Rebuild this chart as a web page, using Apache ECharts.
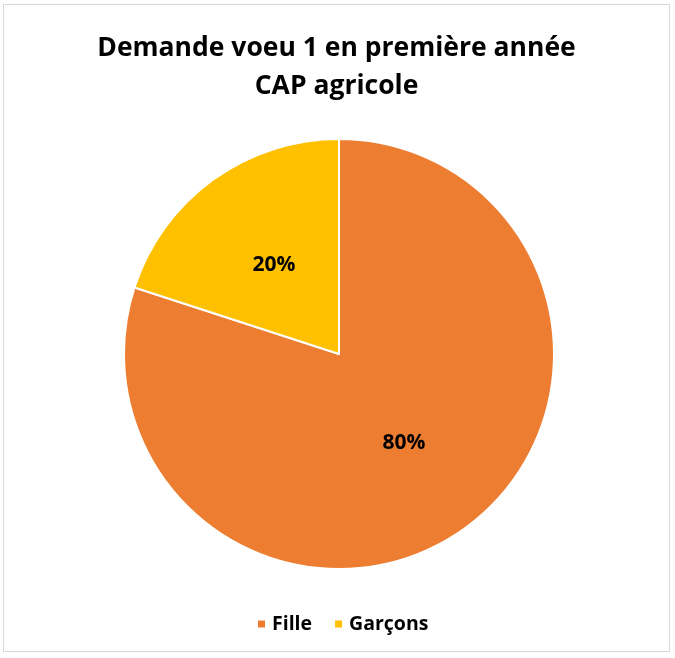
<!DOCTYPE html>
<html>
<head>
<meta charset="utf-8">
<script src="https://cdn.jsdelivr.net/npm/echarts@6/dist/echarts.min.js"></script>
<style>
html,body{margin:0;padding:0;background:#fff;}
#chart{position:absolute;left:3px;top:4px;width:667px;height:648px;border:1px solid #d9d9d9;box-sizing:border-box;}
</style>
</head>
<body>
<div id="chart"></div>
<script>
//数据
var categories = ["Fille", "Garçons"];
var values = [80, 20];
var colors = ["#ED7D31", "#FFC000"];

var myChart = echarts.init(document.getElementById("chart"));

var pieData = [];
for (var i = 0; i < categories.length; i++) {
    pieData.push({name: categories[i], value: values[i], itemStyle: {color: colors[i]}});
}

var option = {
    backgroundColor: "#fff",
    title: {
        text: "Demande voeu 1 en première année\nCAP agricole",
        left: "center",
        top: 19,
        textStyle: {
            fontFamily: "Open Sans",
            fontWeight: "bold",
            fontSize: 26.5,
            lineHeight: 38,
            color: "#000"
        }
    },
    legend: {
        bottom: 12,
        left: 247,
        itemWidth: 9,
        itemHeight: 9,
        itemGap: 21,
        icon: "rect",
        textStyle: {
            fontFamily: "Open Sans",
            fontWeight: "bold",
            fontSize: 19.5,
            color: "#000",
            padding: [0, 0, 0, 1]
        },
        data: categories
    },
    series: [
        {
            type: "pie",
            center: [335, 349],
            radius: [0, 215],
            startAngle: 90,
            clockwise: true,
            silent: true,
            label: {
                show: true,
                position: "inside",
                formatter: "{d}%",
                fontFamily: "Open Sans",
                fontWeight: "bold",
                fontSize: 21,
                color: "#000"
            },
            labelLine: {show: false},
            itemStyle: {borderColor: "#fff", borderWidth: 2},
            data: pieData
        }
    ]
};

myChart.setOption(option);
</script>
</body>
</html>
